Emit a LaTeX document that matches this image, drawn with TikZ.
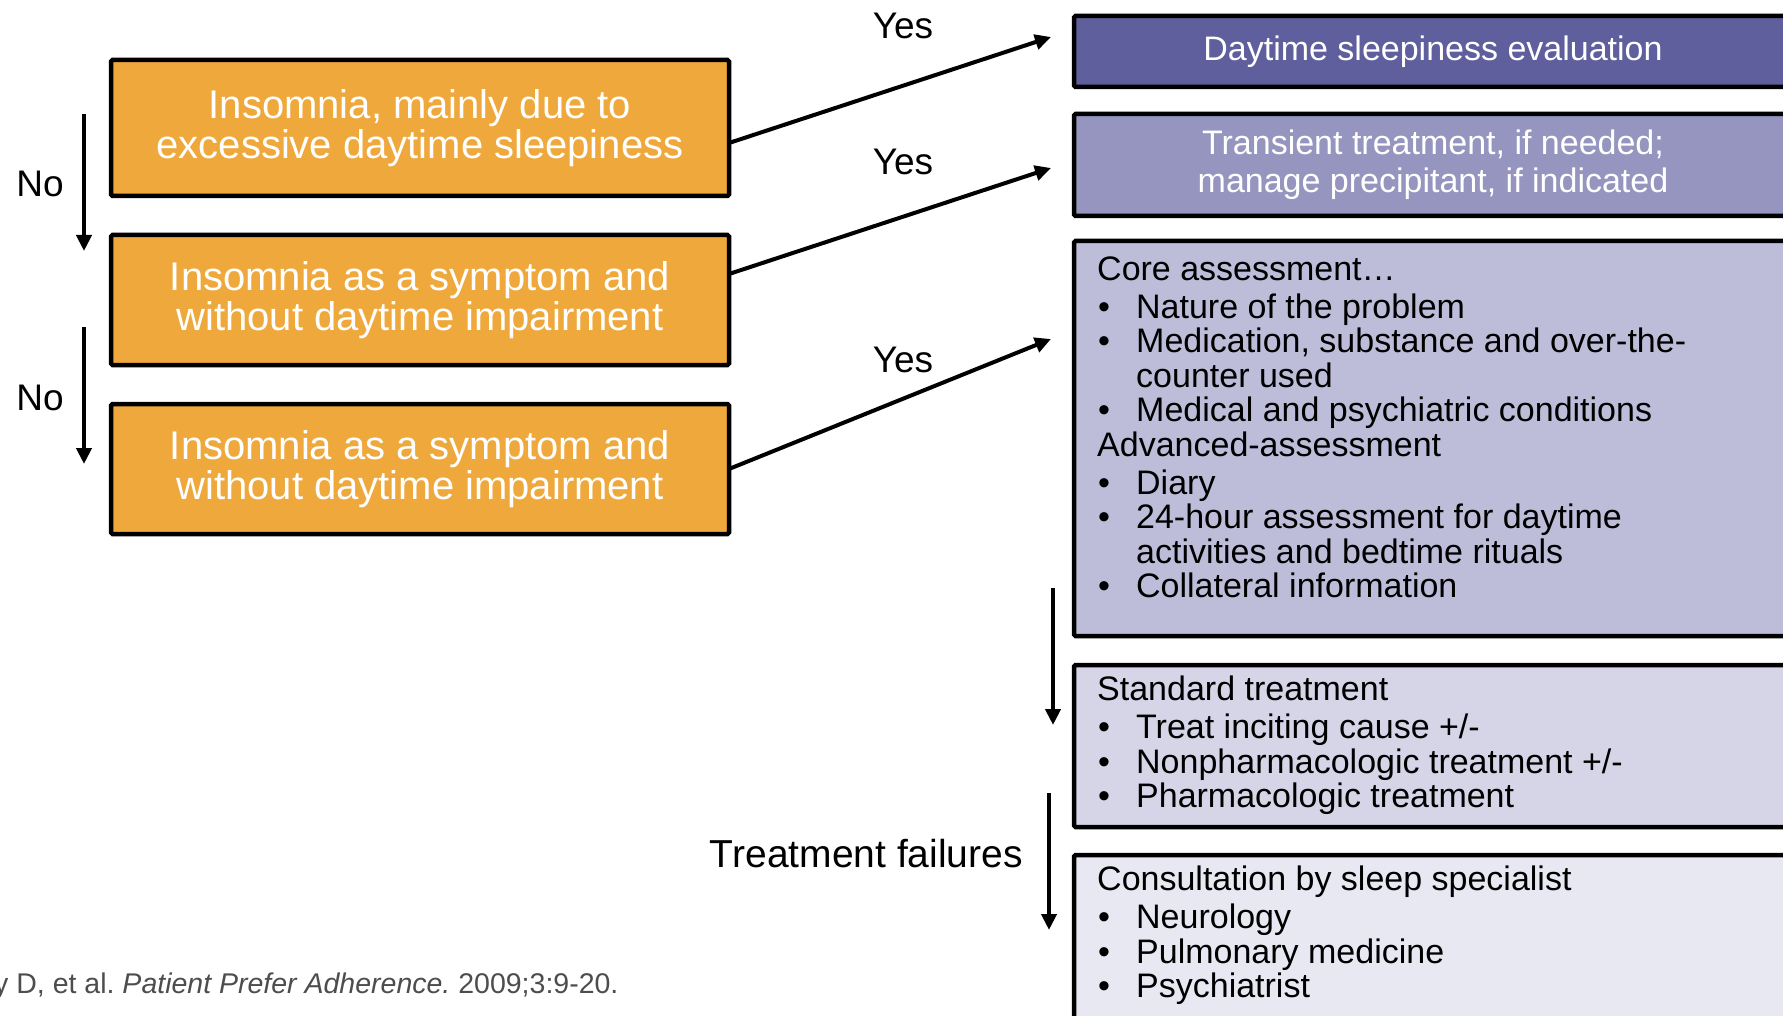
\documentclass[tikz,border=0pt]{standalone}
\usepackage{fontspec}
\setmainfont{Liberation Sans}
\usetikzlibrary{arrows.meta}

\definecolor{insorange}{HTML}{EEA83C}
\definecolor{evalblue}{HTML}{5F5F9D}
\definecolor{transblue}{HTML}{9695BF}
\definecolor{coreblue}{HTML}{BDBDD9}
\definecolor{stdblue}{HTML}{D5D5E7}
\definecolor{consblue}{HTML}{E8E8F2}
\definecolor{refgray}{HTML}{4D4D4D}

% lines of the left-aligned boxes
\newcommand{\boxhead}[1]{\par\noindent#1\par\vspace{3.5pt}}
\newcommand{\boxitem}[1]{\par\noindent\hspace*{1pt}\makebox[38pt][l]{\textbullet}#1}
\newcommand{\boxcont}[1]{\par\noindent\hspace*{39pt}#1}

\begin{document}
\begin{tikzpicture}[x=1pt,y=-1pt,
  box/.style={draw=black, line width=4.5pt, rounded corners=1.5pt, inner sep=0pt, outer sep=0pt, anchor=north west},
  insbox/.style={box, fill=insorange, text=white, align=center, minimum width=618pt, font=\fontsize{40}{40}\selectfont},
  evalbox/.style={box, text=white, align=center, minimum width=718pt, font=\fontsize{34}{38}\selectfont},
  listbox/.style={box, minimum width=718pt},
  boxtext/.style={anchor=base west, inner sep=0pt, font=\fontsize{34}{34.5}\selectfont},
  arr/.style={line width=4pt, -{Triangle[length=16pt,width=15pt]}},
  lbl/.style={inner sep=0pt, font=\fontsize{37}{37}\selectfont}]
\useasboundingbox (0,0) rectangle (1783,1016);
\clip (0,0) rectangle (1783,1016);

\node[insbox, minimum height=136pt] (o1) at (111,60) {Insomnia, mainly due to\\excessive daytime sleepiness};
\node[insbox, minimum height=130pt] (o2) at (111,235) {Insomnia as a symptom and\\without daytime impairment};
\node[insbox, minimum height=130pt] (o3) at (111,404) {Insomnia as a symptom and\\without daytime impairment};

\node[evalbox, fill=evalblue, minimum height=71pt] (sde) at (1074,16) {Daytime sleepiness evaluation};
\node[evalbox, fill=transblue, minimum height=102pt] (trt) at (1074,114) {Transient treatment, if needed;\\manage precipitant, if indicated};
\node[listbox, fill=coreblue, minimum height=395pt] (core) at (1074,241) {};
\node[listbox, fill=stdblue, minimum height=162pt] (std) at (1074,665) {};
\node[listbox, fill=consblue, minimum height=200pt] (cons) at (1074,855) {};

\node[boxtext] (coretext) at (1097,280.5) {\parbox[t]{660pt}{%
  \boxhead{Core assessment\dots}
  \boxitem{Nature of the problem}
  \boxitem{Medication, substance and over-the-}
  \boxcont{counter used}
  \boxitem{Medical and psychiatric conditions}
  \boxhead{Advanced-assessment}
  \boxitem{Diary}
  \boxitem{24-hour assessment for daytime}
  \boxcont{activities and bedtime rituals}
  \boxitem{Collateral information}}};
\node[boxtext] (stdtext) at (1097,700.5) {\parbox[t]{660pt}{%
  \boxhead{Standard treatment}
  \boxitem{Treat inciting cause +/-}
  \boxitem{Nonpharmacologic treatment +/-}
  \boxitem{Pharmacologic treatment}}};
\node[boxtext] (constext) at (1097,890.5) {\parbox[t]{660pt}{%
  \boxhead{Consultation by sleep specialist}
  \boxitem{Neurology}
  \boxitem{Pulmonary medicine}
  \boxitem{Psychiatrist}}};

\coordinate (toSde) at (1051,37);
\coordinate (toTrt) at (1051,168);
\coordinate (toCore) at (1051,339);
\draw[arr] ([yshift=-15pt]o1.east) -- (toSde);
\draw[arr] ([yshift=26pt]o2.east) -- (toTrt);
\draw[arr] (o3.east) -- (toCore);
\node[lbl] (yes1) at (903,26) {Yes};
\node[lbl] (yes2) at (903,162) {Yes};
\node[lbl] (yes3) at (903,360) {Yes};

\coordinate (no1a) at (84,114);
\coordinate (no1b) at (84,251);
\coordinate (no2a) at (84,327);
\coordinate (no2b) at (84,464);
\draw[arr] (no1a) -- (no1b);
\draw[arr] (no2a) -- (no2b);
\node[lbl] (no1) at (40,184) {No};
\node[lbl] (no2) at (40,398) {No};

\coordinate (fa) at (1053,588);
\coordinate (fb) at (1053,725);
\coordinate (fc) at (1049,793);
\coordinate (fd) at (1049,930);
\draw[arr] (fa) -- (fb);
\draw[arr] (fc) -- (fd);
\node[lbl, anchor=east, font=\fontsize{39}{39}\selectfont] (fail) at (1023,854) {Treatment failures};

\node[anchor=base west, inner sep=0pt, text=refgray, font=\fontsize{28.5}{28.5}\selectfont\frenchspacing] (ref) at (-6,993) {y D, et al. \textit{Patient Prefer Adherence.} 2009;3:9-20.};
\end{tikzpicture}
\end{document}
